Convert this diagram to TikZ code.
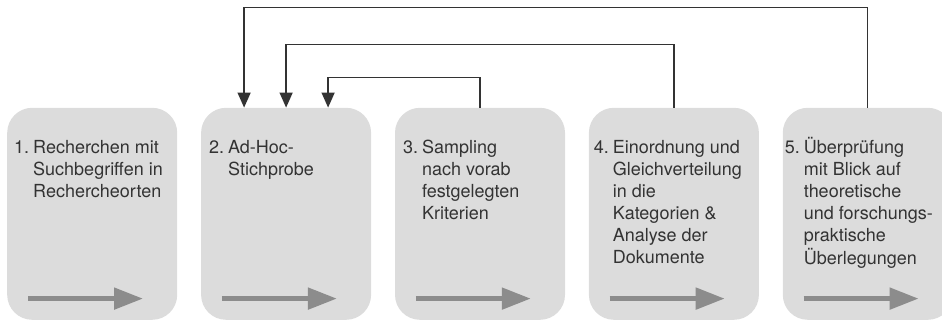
\documentclass[tikz,border=0pt]{standalone}
\usepackage{fontspec}
\setmainfont{TeX Gyre Heros}
\usetikzlibrary{positioning,arrows.meta}
\definecolor{boxgray}{HTML}{DCDCDC}
\definecolor{flowgray}{HTML}{8C8C8C}
\definecolor{linegray}{HTML}{333333}

\begin{document}
\begin{tikzpicture}[x=1pt,y=1pt,
    phase/.style={fill=boxgray,rounded corners=25pt,minimum width=170pt,minimum height=212pt,inner sep=0pt},
    steptext/.style={anchor=base west,inner sep=0pt,text=black!80,font=\fontsize{18}{22}\selectfont},
    flow/.style={draw=flowgray,line width=5pt,-{Triangle[length=29pt,width=21pt]}},
    feedback/.style={draw=linegray,line width=1.3pt,-{Triangle[length=15pt,width=13pt]}}]
    \useasboundingbox (0,0) rectangle (942,322);
    \node[phase,anchor=south west] (b1) at (7,2) {};
    \node[phase,right=23.5pt of b1] (b2) {};
    \node[phase,right=23.5pt of b2] (b3) {};
    \node[phase,right=23.5pt of b3] (b4) {};
    \node[phase,right=23.5pt of b4] (b5) {};
    \node[steptext] (t1) at ([shift={(7,-46)}]b1.north west) {\begin{tabular}[t]{@{}r@{\hspace{4pt}}l@{}}1.&Recherchen mit\\&Suchbegriffen in\\&Rechercheorten\end{tabular}};
    \node[steptext] (t2) at ([shift={(8,-46)}]b2.north west) {\begin{tabular}[t]{@{}r@{\hspace{4pt}}l@{}}2.&Ad-Hoc-\\&Stichprobe\end{tabular}};
    \node[steptext] (t3) at ([shift={(8,-46)}]b3.north west) {\begin{tabular}[t]{@{}r@{\hspace{4pt}}l@{}}3.&Sampling\\&nach vorab\\&festgelegten\\&Kriterien\end{tabular}};
    \node[steptext] (t4) at ([shift={(5,-46)}]b4.north west) {\begin{tabular}[t]{@{}r@{\hspace{4pt}}l@{}}4.&Einordnung und\\&Gleichverteilung\\&in die\\&Kategorien \&\\&Analyse der\\&Dokumente\end{tabular}};
    \node[steptext] (t5) at ([shift={(2,-46)}]b5.north west) {\begin{tabular}[t]{@{}r@{\hspace{4pt}}l@{}}5.&Überprüfung\\&mit Blick auf\\&theoretische\\&und forschungs-\\&praktische\\&Überlegungen\end{tabular}};
    % arrows inside the boxes
    \foreach \b in {b1,b2,b3,b4,b5}
      \draw[flow] ([shift={(21,-191)}]\b.north west) -- ++(115,0);
    % feedback to step 2
    \draw[feedback] (b3.north) -- ++(0,30) -| ([xshift=42pt]b2.north);
    \draw[feedback] (b4.north) -- ++(0,63) -| (b2.north);
    \draw[feedback] (b5.north) -- ++(0,100) -| ([xshift=-42pt]b2.north);
\end{tikzpicture}
\end{document}
